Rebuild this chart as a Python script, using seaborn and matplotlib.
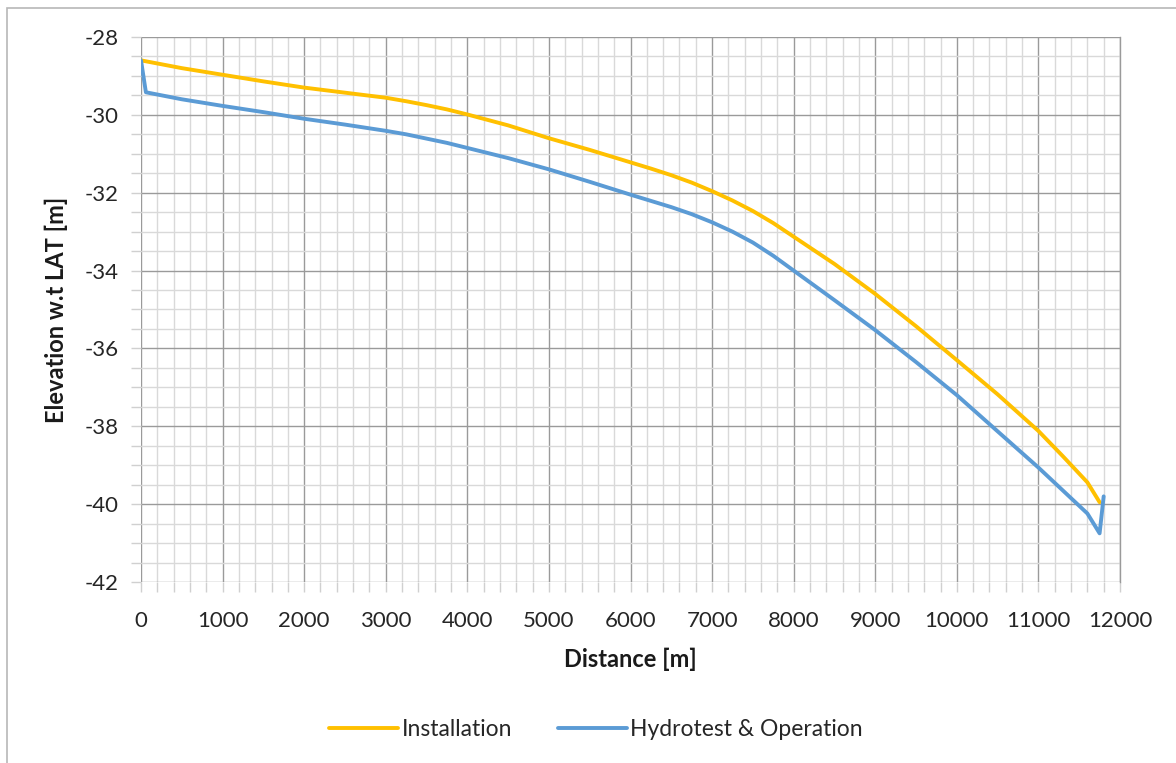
import matplotlib
matplotlib.use("Agg")
import matplotlib.pyplot as plt
from matplotlib.ticker import MultipleLocator
from matplotlib.patches import Rectangle
import seaborn as sns
import pandas as pd

# Pipeline profile: distance along route [m] and elevation w.r.t. LAT [m]
install_dist = [0, 500, 1000, 1500, 2000, 2500, 3000, 3250, 3500, 3750, 4000,
                4500, 5000, 5500, 6000, 6250, 6500, 6750, 7000, 7250, 7500,
                7750, 8000, 8500, 9000, 9500, 10000, 10500, 11000, 11300,
                11600, 11750]
install_elev = [-28.6, -28.8, -28.97, -29.14, -29.3, -29.43, -29.56, -29.65,
                -29.75, -29.86, -29.99, -30.27, -30.6, -30.9, -31.22, -31.38,
                -31.55, -31.74, -31.96, -32.2, -32.47, -32.78, -33.13, -33.83,
                -34.6, -35.43, -36.3, -37.18, -38.12, -38.77, -39.44, -39.95]

hydro_dist = [0, 60, 500, 1000, 1500, 2000, 2500, 3000, 3250, 3500, 3750,
              4000, 4500, 5000, 5500, 6000, 6500, 6750, 7000, 7250, 7500,
              7750, 8000, 8500, 9000, 9500, 10000, 10500, 11000, 11300, 11600,
              11750, 11800]
hydro_elev = [-28.6, -29.42, -29.6, -29.77, -29.93, -30.1, -30.25, -30.41,
              -30.5, -30.61, -30.72, -30.85, -31.11, -31.4, -31.72, -32.05,
              -32.37, -32.55, -32.76, -33.0, -33.28, -33.62, -34.0, -34.76,
              -35.53, -36.35, -37.2, -38.13, -39.06, -39.65, -40.24, -40.75,
              -39.8]

series_names = ["Installation", "Hydrotest & Operation"]
series_colors = ["#FFC000", "#5B9BD5"]

df = pd.concat([
    pd.DataFrame({"Distance": install_dist, "Elevation": install_elev,
                  "Case": series_names[0]}),
    pd.DataFrame({"Distance": hydro_dist, "Elevation": hydro_elev,
                  "Case": series_names[1]}),
], ignore_index=True)

sns.set_theme(style="white")
plt.rcParams["font.family"] = ["Lato", "DejaVu Sans"]
plt.rcParams["axes.unicode_minus"] = False

fig = plt.figure(figsize=(11.76, 7.63), dpi=100)
ax = fig.add_axes([141 / 1176, 1 - 582 / 763, (1120 - 141) / 1176, (582 - 37) / 763])

sns.lineplot(data=df, x="Distance", y="Elevation", hue="Case",
             hue_order=series_names, palette=series_colors,
             linewidth=2.8, sort=False, estimator=None, ax=ax)

ax.set_xlim(0, 12000)
ax.set_ylim(-42, -28)
ax.xaxis.set_major_locator(MultipleLocator(1000))
ax.xaxis.set_minor_locator(MultipleLocator(200))
ax.yaxis.set_major_locator(MultipleLocator(2))
ax.yaxis.set_minor_locator(MultipleLocator(0.5))

ax.grid(which="major", color="#9a9a9a", linewidth=1.0)
ax.grid(which="minor", color="#d9d9d9", linewidth=1.0)
ax.set_axisbelow(True)
for side in ["top", "bottom", "left"]:
    ax.spines[side].set_visible(False)
ax.spines["right"].set_color("#9a9a9a")
ax.spines["right"].set_linewidth(1.0)

ax.tick_params(axis="both", which="both", direction="out", color="#d0d0d0",
               width=1.0, labelsize=16, labelcolor="#262626")
ax.tick_params(axis="x", which="major", length=7, pad=14)
ax.tick_params(axis="y", which="major", length=7, pad=9)
ax.tick_params(axis="both", which="minor", length=7)
ax.tick_params(axis="both", which="both", bottom=True, left=True)

ax.set_xlabel("Distance [m]", fontsize=17, fontweight="bold", color="#1a1a1a", labelpad=12)
ax.set_ylabel("Elevation w.t LAT [m]", fontsize=17, fontweight="bold", color="#1a1a1a", labelpad=12)

handles, labels = ax.get_legend_handles_labels()
ax.legend(handles, labels, loc="center", bbox_to_anchor=(596 / 1176, 1 - 730 / 763),
          bbox_transform=fig.transFigure, ncol=2, frameon=False, fontsize=16.5,
          handlelength=3.0, columnspacing=2.0, handletextpad=0.15)

# Chart area frame
fig.patches.append(Rectangle((7 / 1176, -0.05), 1.1, 1 - 8 / 763 + 0.05,
                             transform=fig.transFigure, fill=False,
                             edgecolor="#b8b8b8", linewidth=1.2))

fig.savefig("out.png", dpi=100)
